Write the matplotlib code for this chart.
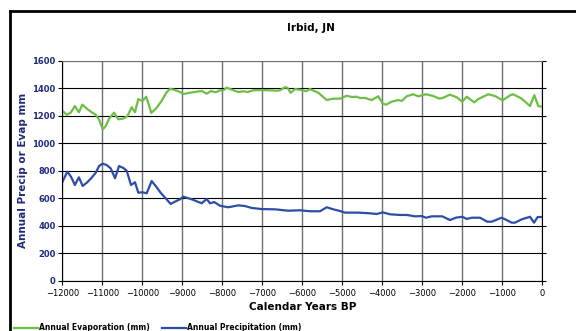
import matplotlib
matplotlib.use("Agg")
import matplotlib.pyplot as plt
from matplotlib.lines import Line2D

# Values
evap_years = [-12000, -11895, -11795, -11690, -11590, -11505, -11380, -11270, -11170,
              -11080, -10995, -10920, -10830, -10712, -10605, -10495, -10380, -10270,
              -10187, -10105, -10005, -9905, -9780, -9645, -9520, -9405, -9312, -9187,
              -9062, -8980, -8812, -8520, -8395, -8288, -8170, -8062, -7980, -7895,
              -7770, -7605, -7480, -7370, -7230, -6980, -6645, -6562, -6437, -6380,
              -6295, -6187, -6020, -5912, -5812, -5605, -5395, -5230, -5062, -4895,
              -4770, -4645, -4562, -4437, -4270, -4105, -3995, -3912, -3770, -3605,
              -3520, -3395, -3230, -3105, -2912, -2730, -2580, -2480, -2312, -2145,
              -2005, -1895, -1705, -1605, -1355, -1187, -995, -812, -730, -520, -312,
              -205, -105, 0]
evap_mm = [1236, 1207, 1222, 1270, 1225, 1280, 1249, 1225, 1207,
           1169, 1101, 1125, 1181, 1222, 1174, 1178, 1196, 1261,
           1225, 1321, 1307, 1338, 1220, 1258, 1309, 1367, 1396, 1387,
           1372, 1358, 1367, 1380, 1360, 1380, 1370, 1385, 1385, 1404,
           1390, 1372, 1378, 1372, 1385, 1387, 1382, 1385, 1407, 1404,
           1367, 1394, 1387, 1378, 1394, 1367, 1314, 1324, 1324, 1345,
           1336, 1338, 1329, 1329, 1314, 1341, 1290, 1280, 1302, 1314,
           1307, 1341, 1356, 1341, 1356, 1343, 1324, 1331, 1353, 1334,
           1302, 1338, 1297, 1321, 1356, 1343, 1312, 1348, 1356, 1324, 1270,
           1350, 1270, 1265]

precip_years = [-12000, -11880, -11787, -11690, -11590, -11495, -11380, -11270, -11170,
                -11080, -10995, -10895, -10795, -10687, -10587, -10480, -10395, -10287,
                -10187, -10105, -10005, -9895, -9770, -9645, -9537, -9420, -9295, -9187,
                -9062, -8980, -8770, -8520, -8395, -8312, -8205, -8062, -7855, -7605,
                -7437, -7270, -7020, -6687, -6355, -6062, -5812, -5562, -5395, -5230,
                -5062, -4937, -4605, -4312, -4145, -3995, -3812, -3562, -3395, -3187,
                -3020, -2912, -2770, -2505, -2312, -2170, -2005, -1895, -1770, -1562,
                -1380, -1270, -1020, -895, -770, -687, -520, -312, -212, -120, 0]
precip_mm = [720, 793, 756, 696, 752, 689, 716, 749, 785,
             836, 851, 841, 817, 745, 834, 820, 800, 696,
             716, 640, 643, 636, 725, 679, 636, 599, 558, 575,
             592, 611, 592, 563, 594, 563, 572, 545, 534, 548,
             543, 529, 521, 519, 509, 512, 505, 505, 534, 519,
             507, 495, 495, 490, 485, 497, 483, 478, 478, 468,
             470, 458, 468, 468, 441, 458, 465, 449, 458, 458,
             429, 429, 458, 441, 422, 422, 446, 465, 422, 463, 463]

x_ticks = list(range(-12000, 1, 1000))
y_ticks = list(range(0, 1601, 200))

green = '#6DBE45'
blue = '#2E4DA7'
navy = '#1F2A7A'

fig = plt.figure(figsize=(5.76, 3.31), dpi=100)
ax = fig.add_axes([0.1085, 0.152, 0.8333, 0.6646])

ax.plot(evap_years, evap_mm, color=green, lw=1.6, label='Annual Evaporation (mm)')
ax.plot(precip_years, precip_mm, color=blue, lw=1.6, label='Annual Precipitation (mm)')

ax.set_xlim(-12000, 0)
ax.set_ylim(0, 1600)
ax.set_xticks(x_ticks)
ax.set_yticks(y_ticks)
ax.xaxis.grid(True, color='#707070', lw=1.0)
ax.yaxis.grid(True, color='black', lw=0.8)
ax.set_axisbelow(True)
for s in ax.spines.values():
    s.set_color('black')
    s.set_linewidth(0.8)
ax.spines['top'].set_color('#707070')

ax.tick_params(axis='x', direction='out', length=3, width=0.8, labelsize=6, pad=3)
ax.tick_params(axis='y', direction='out', length=3, width=0.8, labelsize=6, pad=2,
               labelcolor=navy, right=True)
for lab in ax.get_yticklabels():
    lab.set_fontweight('bold')

ax.set_xlabel('Calendar Years BP', fontsize=7.5, fontweight='bold', labelpad=3)
ax.set_ylabel('Annual Precip or Evap mm', fontsize=7.5, fontweight='bold', color=navy, labelpad=3)
fig.text(0.539, 0.915, 'Irbid, JN', ha='center', va='center', fontsize=7.5, fontweight='bold')

# outer chart frame (left and top edges visible)
fig.add_artist(Line2D([0.0165, 0.0165], [-0.05, 0.966], color='black', lw=2))
fig.add_artist(Line2D([0.0165, 1.05], [0.966, 0.966], color='black', lw=2))

fig.legend(loc='lower left', bbox_to_anchor=(0.012, -0.025), ncol=2, frameon=False,
           prop={'size': 5.5, 'weight': 'bold'}, handlelength=3.2, handletextpad=0.1,
           columnspacing=1.6)

fig.savefig('out.png', dpi=100)
